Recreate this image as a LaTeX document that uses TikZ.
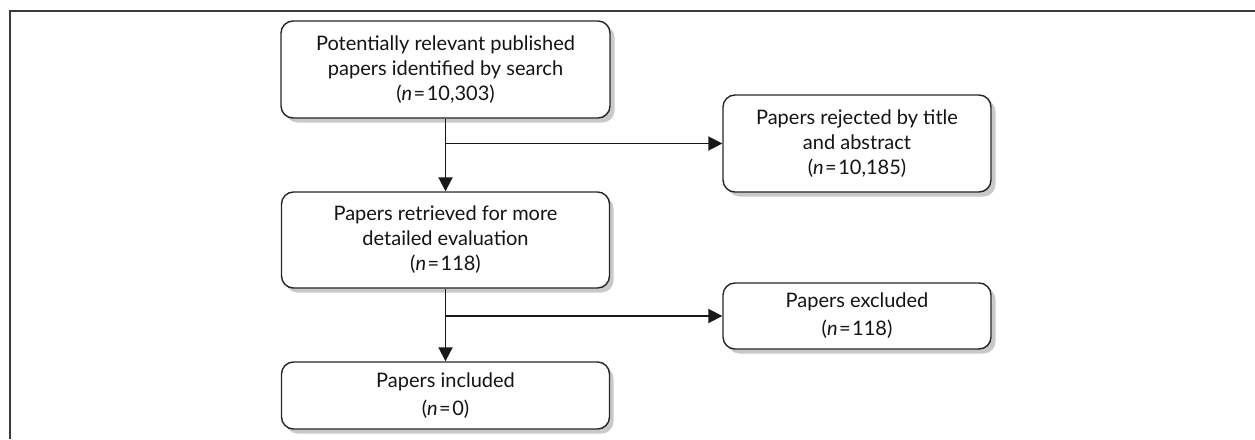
\documentclass[tikz,border=0pt]{standalone}
\usepackage{fontspec}
\setmainfont{Lato}
\usetikzlibrary{arrows.meta}
\definecolor{boxline}{HTML}{262626}
\definecolor{shadowgray}{HTML}{C8C9CB}
\definecolor{framegray}{HTML}{3A3A3A}
\newcommand{\eqn}{\kern1.5pt=\kern1.5pt}
\newcommand{\boxfontA}{\fontsize{20}{25}\selectfont}
\newcommand{\boxfontB}{\fontsize{20}{28}\selectfont}
\tikzset{
  flowbox/.style={draw=boxline, line width=1.4pt, fill=white, rounded corners=12pt,
    align=center, inner sep=0pt, text=black!92,
    execute at begin node={\rule{0pt}{24pt}}},
  threeline/.style={font=\boxfontA},
  twoline/.style={font=\boxfontB},
  boxshadow/.style={fill=shadowgray, rounded corners=12pt},
  flowarrow/.style={draw=black!90, line width=1.9pt, -{Triangle[length=14pt,width=14pt]}},
  frameline/.style={draw=framegray, line width=1.3pt}
}
\begin{document}
\begin{tikzpicture}[x=1pt,y=-1pt]
\useasboundingbox (0,0) rectangle (1255,439);
\draw[frameline] (10,439) -- (10,11) -- (1255,11);
% shadows
\fill[boxshadow] (285.5,25.5) rectangle (614.5,122.5);
\fill[boxshadow] (285.5,196.5) rectangle (613.5,292.5);
\fill[boxshadow] (285.5,366.5) rectangle (613.5,433.5);
\fill[boxshadow] (727.5,99.5) rectangle (995.5,196.5);
\fill[boxshadow] (727.5,287.5) rectangle (995.5,353.5);
\node[flowbox, threeline, minimum width=329pt, minimum height=97pt] (b1) at (445.5,69.5)
  {Potentially relevant published\\papers identified by search\\(\textit{n}\eqn10,303)};
\node[flowbox, threeline, minimum width=328pt, minimum height=96pt] (b2) at (445.5,240)
  {Papers retrieved for more\\detailed evaluation\\(\textit{n}\eqn118)};
\node[flowbox, twoline, minimum width=328pt, minimum height=67pt] (b3) at (445.5,395.5)
  {Papers included\\(\textit{n}\eqn0)};
\node[flowbox, threeline, minimum width=268pt, minimum height=97pt] (rej) at (857,143.5)
  {Papers rejected by title\\and abstract\\(\textit{n}\eqn10,185)};
\node[flowbox, twoline, minimum width=268pt, minimum height=66pt] (exc) at (857,316)
  {Papers excluded\\(\textit{n}\eqn118)};
\draw[flowarrow] (b1.south) -- (b2.north);
\draw[flowarrow] (b1.south |- rej.west) -- (rej.west);
\draw[flowarrow] (b2.south) -- (b3.north);
\draw[flowarrow] (b2.south |- exc.west) -- (exc.west);
\end{tikzpicture}
\end{document}
